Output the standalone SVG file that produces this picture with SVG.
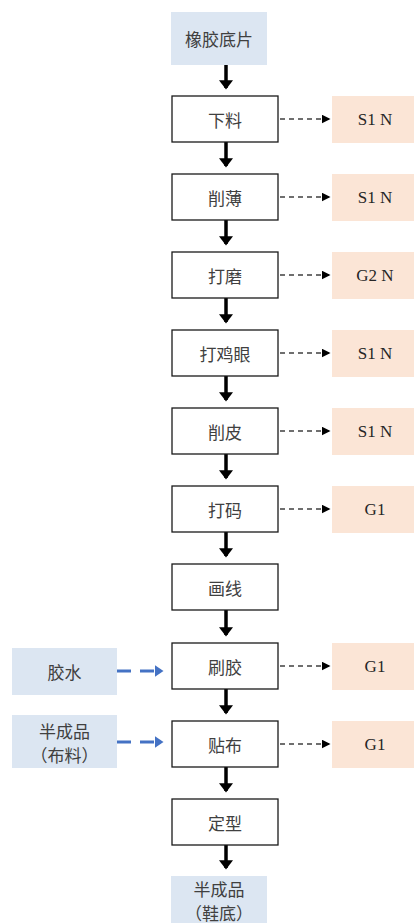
<svg xmlns="http://www.w3.org/2000/svg" width="414" height="923" viewBox="0 0 414 923">
  <style>
    .cn { font-family: "Noto Sans CJK SC", "Noto Sans", sans-serif; font-size: 17px; fill: #404040; text-anchor: middle; dominant-baseline: central; }
    .en { font-family: "Liberation Serif", "Times New Roman", serif; font-size: 17px; fill: #262626; text-anchor: middle; dominant-baseline: central; }
    .proc { fill: #ffffff; stroke: #1a1a1a; stroke-width: 1.3; }
    .io { fill: #dce6f2; }
    .out { fill: #fbe5d6; }
    .flow { stroke: #000; stroke-width: 3.5; fill: none; marker-end: url(#ah); }
    .emit { stroke: #404040; stroke-width: 1.5; stroke-dasharray: 5 4; fill: none; marker-end: url(#ahs); }
    .feed { stroke: #4472c4; stroke-width: 3; stroke-dasharray: 14 9; fill: none; marker-end: url(#ahb); }
  </style>
  <defs>
    <marker id="ah" markerWidth="4" markerHeight="4" refX="2.2" refY="2" orient="auto" markerUnits="strokeWidth">
      <path d="M0,0 L2.6,2 L0,4 Z" fill="#000"/>
    </marker>
    <marker id="ahs" markerWidth="6" markerHeight="6" refX="5" refY="3" orient="auto" markerUnits="strokeWidth">
      <path d="M0,0 L6,3 L0,6 Z" fill="#000"/>
    </marker>
    <marker id="ahb" markerWidth="4" markerHeight="4" refX="2.5" refY="2" orient="auto" markerUnits="strokeWidth">
      <path d="M0,0 L3,2 L0,4 Z" fill="#4472c4"/>
    </marker>
  </defs>

  <!-- connectors -->
  <g id="connectors">
    <path class="flow" d="M226,65 V88"/>
    <path class="flow" d="M226,142 V166"/>
    <path class="flow" d="M226,220 V244"/>
    <path class="flow" d="M226,298 V322"/>
    <path class="flow" d="M226,376 V400"/>
    <path class="flow" d="M226,454 V478"/>
    <path class="flow" d="M226,532 V556"/>
    <path class="flow" d="M226,610 V635"/>
    <path class="flow" d="M226,689 V713"/>
    <path class="flow" d="M226,767 V791"/>
    <path class="flow" d="M226,845 V868"/>

    <path class="emit" d="M280,119 H329"/>
    <path class="emit" d="M280,197 H329"/>
    <path class="emit" d="M280,275 H329"/>
    <path class="emit" d="M280,353 H329"/>
    <path class="emit" d="M280,431 H329"/>
    <path class="emit" d="M280,509 H329"/>
    <path class="emit" d="M280,666 H329"/>
    <path class="emit" d="M280,744 H329"/>

    <path class="feed" d="M117,671 H162"/>
    <path class="feed" d="M117,742 H162"/>
  </g>

  <!-- input material -->
  <g id="n-rubber">
    <rect class="io" x="171" y="12" width="96" height="53"/>
    <text class="cn" x="219" y="38.5">橡胶底片</text>
  </g>

  <!-- process steps -->
  <g id="n-cut">
    <rect class="proc" x="172" y="96" width="106" height="46"/>
    <text class="cn" x="225" y="119">下料</text>
  </g>
  <g id="n-skive">
    <rect class="proc" x="172" y="174" width="106" height="46"/>
    <text class="cn" x="225" y="197">削薄</text>
  </g>
  <g id="n-grind">
    <rect class="proc" x="172" y="252" width="106" height="46"/>
    <text class="cn" x="225" y="275">打磨</text>
  </g>
  <g id="n-eyelet">
    <rect class="proc" x="172" y="330" width="106" height="46"/>
    <text class="cn" x="225" y="353">打鸡眼</text>
  </g>
  <g id="n-peel">
    <rect class="proc" x="172" y="408" width="106" height="46"/>
    <text class="cn" x="225" y="431">削皮</text>
  </g>
  <g id="n-code">
    <rect class="proc" x="172" y="486" width="106" height="46"/>
    <text class="cn" x="225" y="509">打码</text>
  </g>
  <g id="n-line">
    <rect class="proc" x="172" y="564" width="106" height="46"/>
    <text class="cn" x="225" y="587">画线</text>
  </g>
  <g id="n-glue">
    <rect class="proc" x="172" y="643" width="106" height="46"/>
    <text class="cn" x="225" y="666">刷胶</text>
  </g>
  <g id="n-cloth">
    <rect class="proc" x="172" y="721" width="106" height="46"/>
    <text class="cn" x="225" y="744">贴布</text>
  </g>
  <g id="n-shape">
    <rect class="proc" x="172" y="799" width="106" height="46"/>
    <text class="cn" x="225" y="822">定型</text>
  </g>

  <!-- output product -->
  <g id="n-sole">
    <rect class="io" x="171" y="876" width="96" height="52"/>
    <text class="cn" x="219" y="888">半成品</text>
    <text class="cn" x="219" y="912">（鞋底）</text>
  </g>

  <!-- auxiliary inputs -->
  <g id="n-adhesive">
    <rect class="io" x="12" y="648" width="105" height="47"/>
    <text class="cn" x="64.5" y="671">胶水</text>
  </g>
  <g id="n-fabric">
    <rect class="io" x="12" y="715" width="105" height="53"/>
    <text class="cn" x="64.5" y="730">半成品</text>
    <text class="cn" x="64.5" y="754">（布料）</text>
  </g>

  <!-- emissions -->
  <g id="e1"><rect class="out" x="332" y="96" width="82" height="47"/><text class="en" x="375" y="119.5">S1 N</text></g>
  <g id="e2"><rect class="out" x="332" y="174" width="82" height="47"/><text class="en" x="375" y="197.5">S1 N</text></g>
  <g id="e3"><rect class="out" x="332" y="252" width="82" height="47"/><text class="en" x="375" y="275.5">G2 N</text></g>
  <g id="e4"><rect class="out" x="332" y="330" width="82" height="47"/><text class="en" x="375" y="353.5">S1 N</text></g>
  <g id="e5"><rect class="out" x="332" y="408" width="82" height="47"/><text class="en" x="375" y="431.5">S1 N</text></g>
  <g id="e6"><rect class="out" x="332" y="486" width="82" height="47"/><text class="en" x="375" y="509.5">G1</text></g>
  <g id="e7"><rect class="out" x="332" y="643" width="82" height="47"/><text class="en" x="375" y="666.5">G1</text></g>
  <g id="e8"><rect class="out" x="332" y="721" width="82" height="47"/><text class="en" x="375" y="744.5">G1</text></g>
</svg>
